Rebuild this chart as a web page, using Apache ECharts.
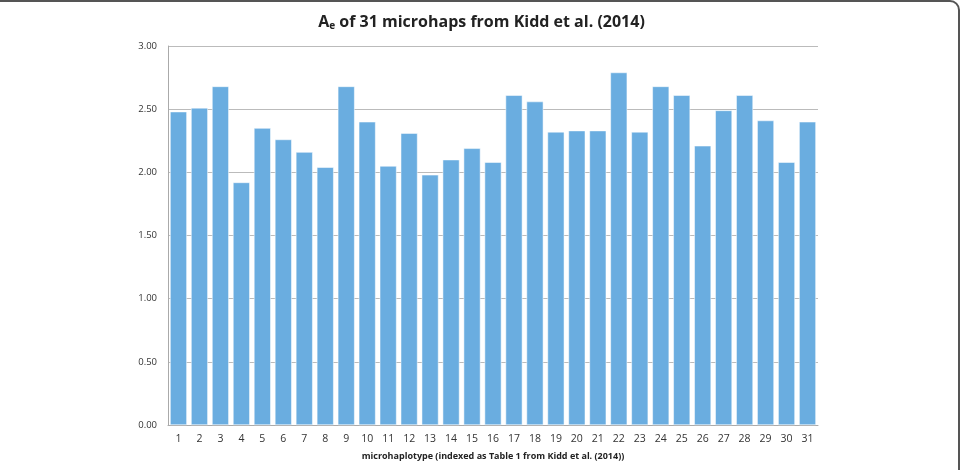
<!DOCTYPE html>
<html>
<head>
<meta charset="utf-8">
<script src="https://cdn.jsdelivr.net/npm/echarts@6/dist/echarts.min.js"></script>
<style>html,body{margin:0;padding:0;background:#fff;}#c{width:963px;height:470px;}</style>
</head>
<body>
<div id="c"></div>
<script>
const categories = ['1','2','3','4','5','6','7','8','9','10','11','12','13','14','15','16','17','18','19','20','21','22','23','24','25','26','27','28','29','30','31'];
const aeValues = [2.48, 2.51, 2.68, 1.92, 2.35, 2.26, 2.16, 2.04, 2.68, 2.40, 2.05, 2.31, 1.98, 2.10, 2.19, 2.08, 2.61, 2.56, 2.32, 2.33, 2.33, 2.79, 2.32, 2.68, 2.61, 2.21, 2.49, 2.61, 2.41, 2.08, 2.40];
const yTicks = [0, 0.5, 1, 1.5, 2, 2.5, 3];

const chart = echarts.init(document.getElementById('c'), null, {renderer: 'canvas'});
chart.setOption({
  animation: false,
  backgroundColor: '#fff',
  graphic: [{
    type: 'rect',
    shape: {x: -30, y: 1, width: 989, height: 520, r: 9},
    style: {fill: 'none', stroke: '#555', lineWidth: 2},
    silent: true
  }],
  title: {
    text: '{a|A}{s|e}{a| of 31 microhaps from Kidd et al. (2014)}',
    left: 'center',
    top: 8,
    textStyle: {
      rich: {
        a: {fontFamily: 'Open Sans', fontWeight: 'bold', fontSize: 16, color: '#222'},
        s: {fontFamily: 'Open Sans', fontWeight: 'bold', fontSize: 10, color: '#222', verticalAlign: 'bottom', padding: [8, 0, 0, 0]}
      }
    }
  },
  grid: {left: 168, right: 145, top: 46, bottom: 45, containLabel: false},
  xAxis: {
    type: 'category',
    data: categories,
    name: 'microhaplotype (indexed as Table 1 from Kidd et al. (2014))',
    nameLocation: 'middle',
    nameGap: 27,
    nameTextStyle: {fontFamily: 'Open Sans', fontWeight: 'bold', fontSize: 9, color: '#222'},
    axisLine: {lineStyle: {color: '#aaa', width: 1}},
    axisTick: {show: false},
    axisLabel: {fontFamily: 'Open Sans', fontSize: 10.5, color: '#333', margin: 9, interval: 0}
  },
  yAxis: {
    type: 'value',
    min: 0,
    max: 3,
    interval: 0.5,
    axisLine: {show: true, lineStyle: {color: '#aaa', width: 1}},
    axisTick: {show: false},
    axisLabel: {fontFamily: 'Open Sans', fontSize: 9.5, color: '#333', margin: 11,
      formatter: v => v.toFixed(2)},
    splitLine: {lineStyle: {color: '#bbb', width: 1}}
  },
  series: [{
    type: 'bar',
    data: aeValues,
    barCategoryGap: '20%',
    itemStyle: {color: '#6aade0', borderColor: '#fff', borderWidth: 0.5}
  }]
});
</script>
</body>
</html>
